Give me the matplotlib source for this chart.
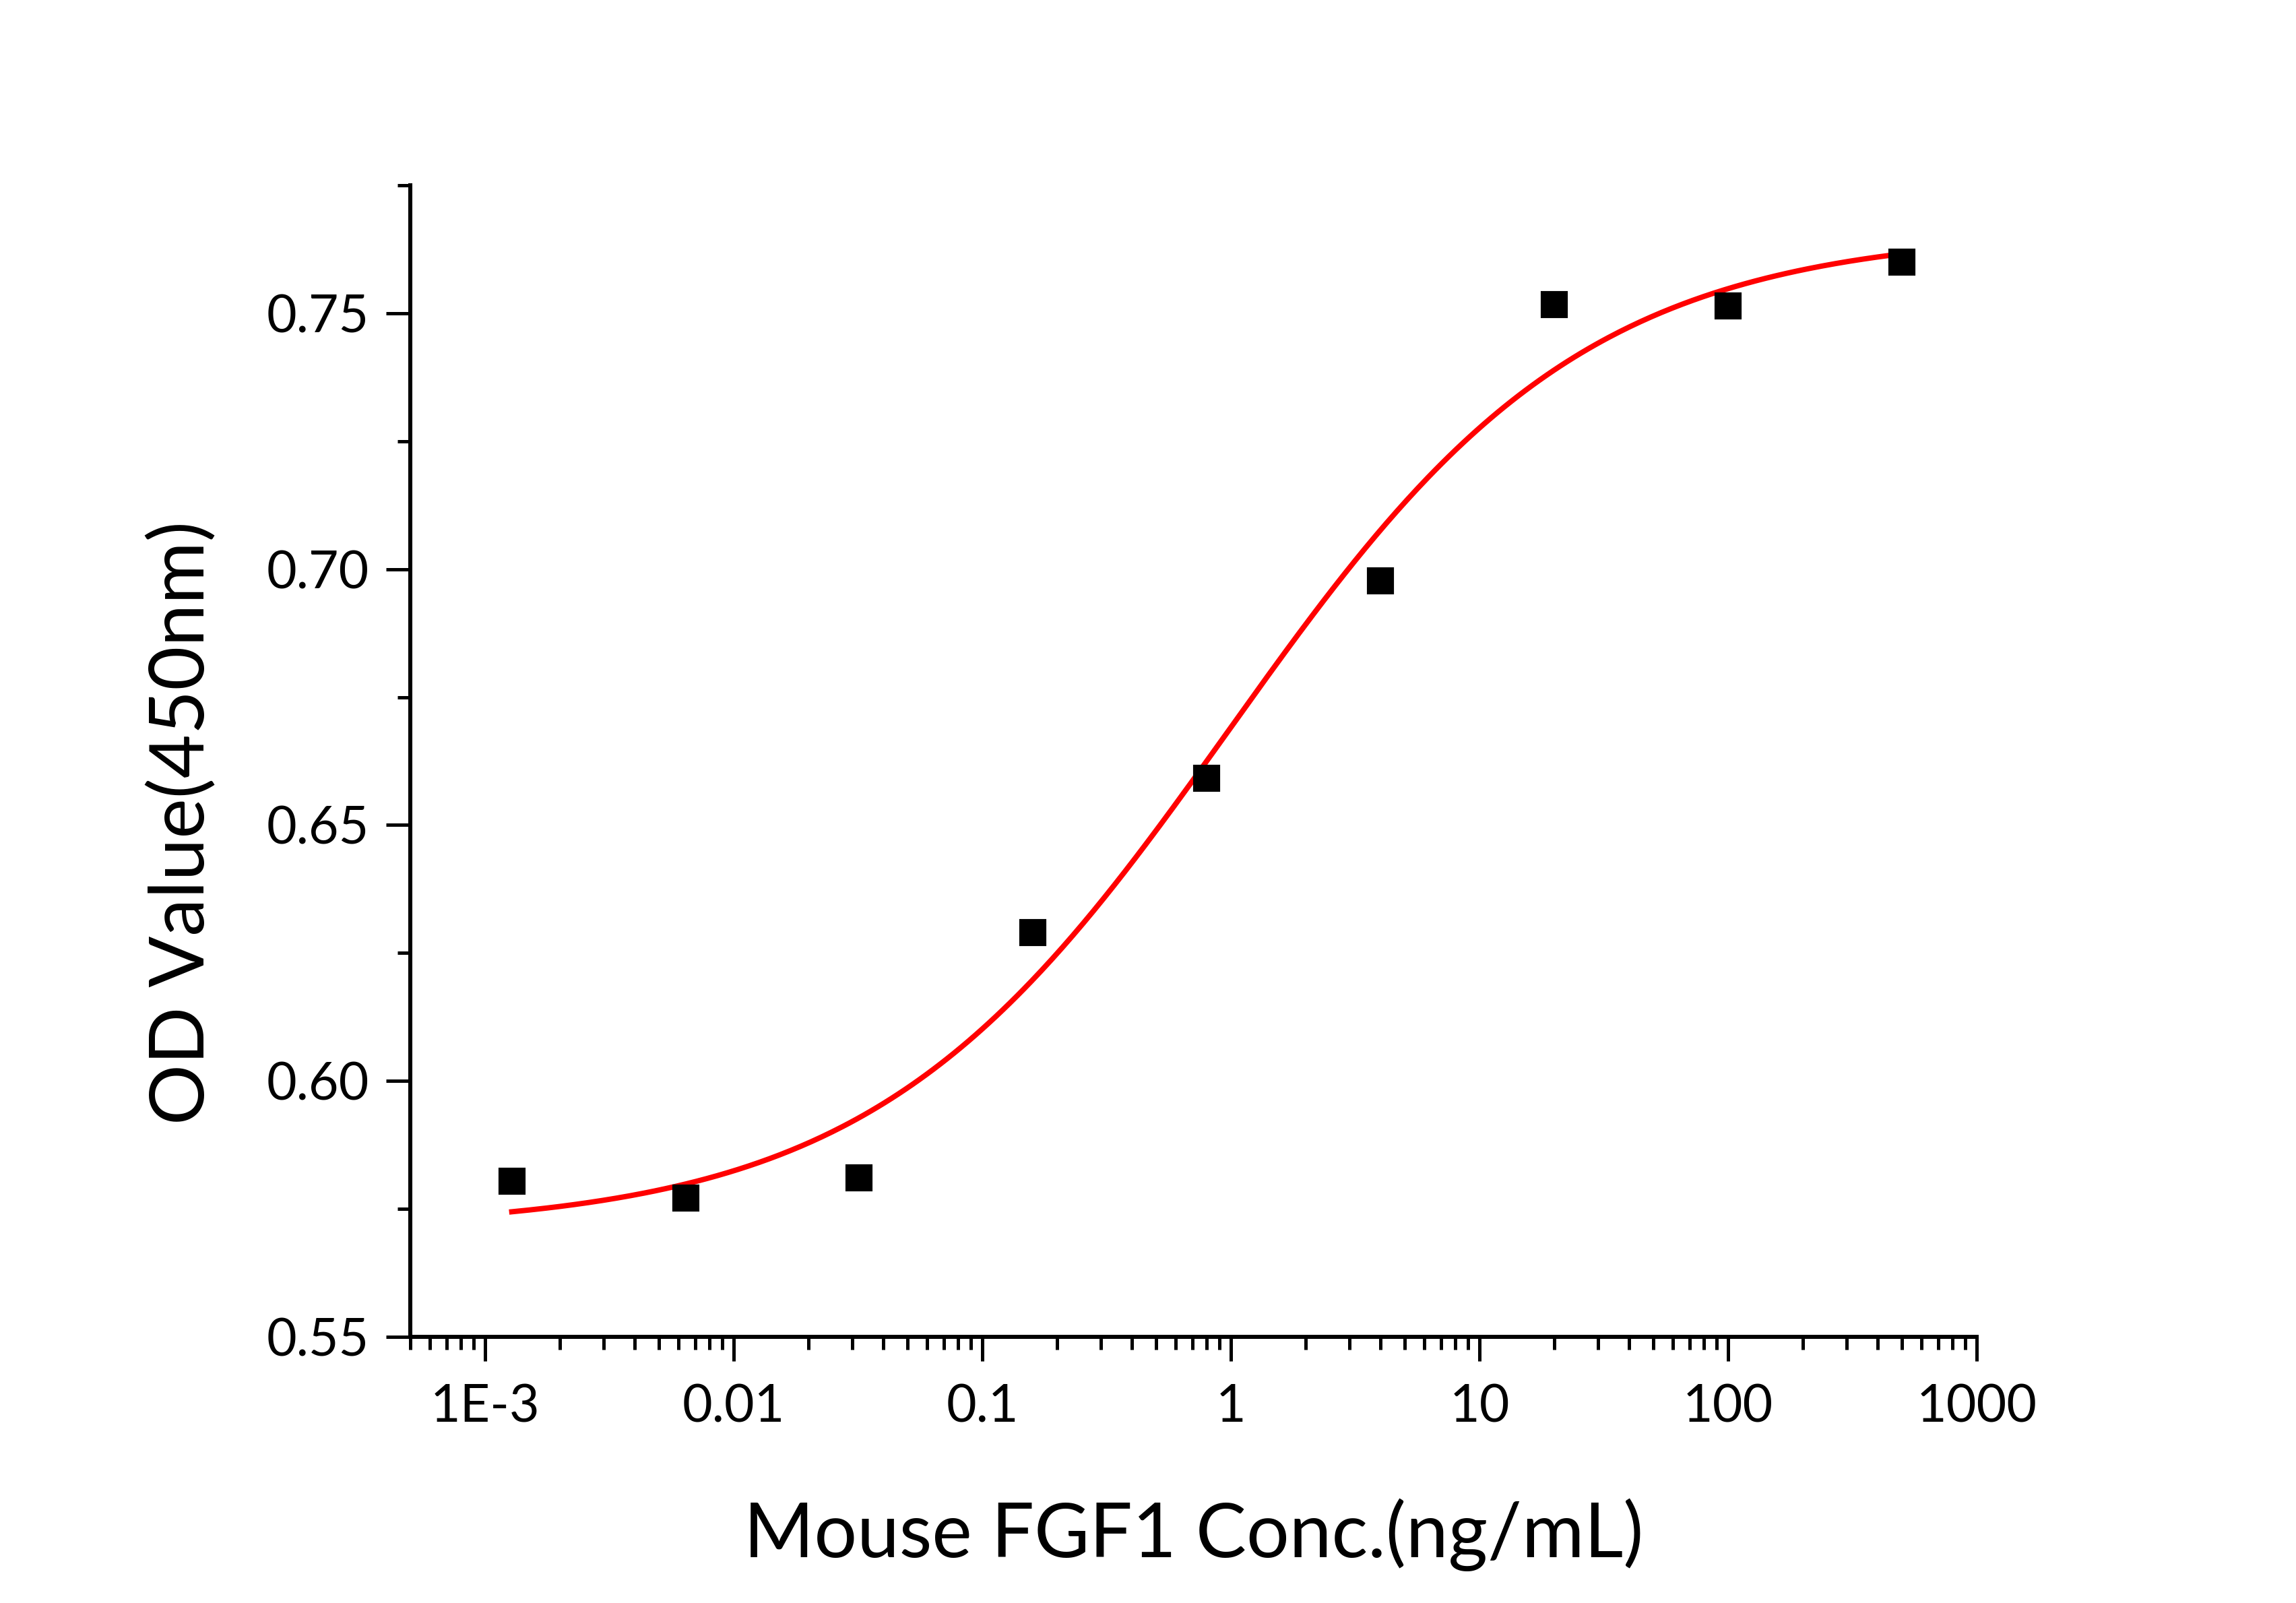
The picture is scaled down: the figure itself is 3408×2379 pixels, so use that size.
import numpy as np
import matplotlib
matplotlib.use("Agg")
import matplotlib.pyplot as plt
from matplotlib.ticker import FixedLocator, FixedFormatter, LogLocator, MultipleLocator, NullFormatter

plt.rcParams['font.family'] = ['Lato', 'DejaVu Sans']

# measured points: 5-fold dilution series
conc = [0.00128, 0.0064, 0.032, 0.16, 0.8, 4, 20, 100, 500]
od = [0.5804, 0.5771, 0.5811, 0.6290, 0.6591, 0.6977, 0.7517, 0.7514, 0.7600]

# 4PL fit parameters (bottom, top, EC50, hill)
fit_bottom = 0.571
fit_top = 0.766
fit_ec50 = 0.98
fit_hill = 0.605

xtick_vals = [1e-3, 1e-2, 1e-1, 1, 10, 100, 1000]
xtick_labels = ['1E-3', '0.01', '0.1', '1', '10', '100', '1000']
ytick_vals = [0.55, 0.60, 0.65, 0.70, 0.75]


def four_pl(x):
    return fit_top + (fit_bottom - fit_top) / (1 + (x / fit_ec50) ** fit_hill)


fig = plt.figure(figsize=(11.36, 7.93), dpi=300)
ax = fig.add_axes([0.1787, 0.166, 0.6822, 0.7184])

xs = np.logspace(np.log10(conc[0]), np.log10(conc[-1]), 400)
ax.plot(xs, four_pl(xs), color='#ff0000', lw=1.9, zorder=2)
ax.plot(conc, od, ls='none', marker='s', markersize=8.8, color='black', zorder=3)

ax.set_xscale('log')
ax.set_xlim(5e-4, 1000)
ax.set_ylim(0.55, 0.775)

ax.xaxis.set_major_locator(FixedLocator(xtick_vals))
ax.xaxis.set_major_formatter(FixedFormatter(xtick_labels))
ax.xaxis.set_minor_locator(LogLocator(base=10, subs=np.arange(2, 10), numticks=20))
ax.xaxis.set_minor_formatter(NullFormatter())

ax.yaxis.set_major_locator(FixedLocator(ytick_vals))
ax.yaxis.set_major_formatter(FixedFormatter(['%.2f' % v for v in ytick_vals]))
ax.yaxis.set_minor_locator(MultipleLocator(0.025))

for side in ['top', 'right']:
    ax.spines[side].set_visible(False)
for side in ['left', 'bottom']:
    ax.spines[side].set_linewidth(1.45)

ax.tick_params(which='major', direction='out', length=8.6, width=1.2, labelsize=18.5)
ax.tick_params(which='minor', direction='out', length=4.6, width=1.2)
ax.tick_params(axis='x', which='major', pad=8)
ax.tick_params(axis='y', which='major', pad=6)

ax.text(-0.146, 0.4465, 'OD Value(450nm)', transform=ax.transAxes, rotation=90,
        ha='center', va='center', fontsize=27)
fig.text(0.5199, 0.0425, 'Mouse FGF1 Conc.(ng/mL)', ha='center', va='center', fontsize=27)

fig.savefig('out.png', dpi=300)
